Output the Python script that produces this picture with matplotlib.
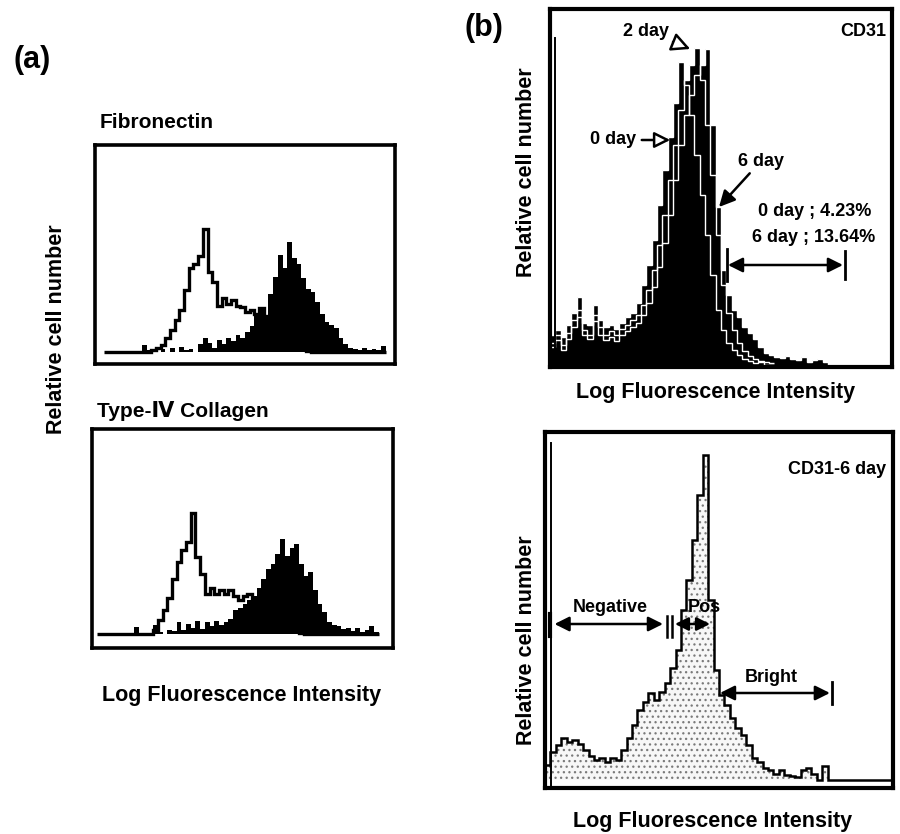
import numpy as np
import matplotlib
matplotlib.use('Agg')
import matplotlib.pyplot as plt

plt.rcParams['font.family'] = ['Liberation Sans', 'DejaVu Sans']
plt.rcParams['font.weight'] = 'bold'
plt.rcParams['hatch.linewidth'] = 0.9

# ---------------- data (relative cell counts per 4-channel bin) ----------------
BIN = 4  # channels per bin, 256-channel log scale

# (a) Fibronectin
fn_ctrl_start = 2
fn_ctrl = [0, 0, 0, 0, 0, 0, 0, 0, 0,
           0, 2, 4, 7, 14, 22, 32, 42, 62, 84, 88, 96, 123, 80, 70, 46, 54, 48, 52,
           46, 45, 40, 42, 38, 44, 36, 30, 25, 20, 15, 11, 8, 5, 3, 1,
           0, 0, 0, 0, 0, 0, 0, 0, 0, 0, 0, 0, 0, 0, 0, 0]
fn_stain_start = 10
fn_stain = [7, 2, 0, 0, 3, 0, 4, 0, 5, 2, 3, 0, 8, 14, 9, 4, 12, 8, 14, 11, 17, 14,
            20, 26, 38, 42, 36, 58, 75, 97, 84, 110, 94, 88, 74, 63, 60, 50, 38, 30,
            27, 24, 14, 8, 4, 3, 2, 4, 2, 3, 2, 6]

# (a) Type-IV collagen
col_ctrl_start = 1
col_ctrl = [0, 0, 0, 0, 0, 0, 0, 0, 0, 0, 0,
            0, 4, 14, 24, 36, 55, 72, 84, 92, 121, 77, 60, 40, 46, 40, 44, 40, 44,
            38, 34, 38, 40, 32, 30, 26, 22, 18, 14, 11, 8, 5, 3, 1,
            0, 0, 0, 0, 0, 0, 0, 0, 0, 0, 0, 0, 0, 0, 0, 0]
col_stain_start = 9
col_stain = [7, 0, 0, 0, 9, 2, 0, 4, 3, 12, 4, 10, 6, 13, 5, 12, 8, 13, 9, 12, 15,
             24, 26, 30, 34, 38, 46, 55, 65, 70, 80, 95, 78, 86, 90, 70, 58, 62, 44,
             30, 22, 12, 9, 8, 5, 6, 3, 6, 2, 4, 8, 2]

# (b) CD31 time course
cd31_day0 = [30, 35, 28, 40, 52, 68, 42, 40, 60, 45, 38, 40, 36, 42, 48, 52, 62, 80,
             100, 125, 160, 195, 228, 262, 303, 280, 250, 210, 170, 130, 90, 55, 35,
             22, 15, 10, 6, 4, 2, 3, 0, 0]
cd31_day2 = [22, 30, 20, 32, 45, 55, 35, 30, 50, 38, 30, 34, 30, 36, 40, 45, 50, 60,
             75, 95, 120, 150, 185, 220, 255, 285, 300, 317, 285, 240, 190, 130, 80,
             52, 35, 22, 14, 9, 6, 4, 3, 2]
cd31_day6 = [18, 25, 15, 26, 38, 48, 30, 26, 44, 30, 25, 28, 24, 30, 34, 38, 42, 50,
             62, 78, 98, 122, 150, 185, 220, 250, 270, 290, 300, 316, 240, 158, 95,
             70, 55, 48, 38, 32, 26, 18, 12, 10, 8, 7, 9, 6, 5, 8, 3, 5, 6, 3, 0]

# (b) CD31 - 6 day
cd31_6d = [15, 28, 35, 42, 38, 40, 36, 30, 24, 20, 22, 18, 22, 20, 30, 42, 55, 70,
           78, 87, 80, 88, 97, 112, 130, 170, 200, 240, 285, 325, 180, 110, 85, 75,
           62, 52, 45, 35, 22, 18, 12, 10, 6, 10, 5, 4, 3, 10, 12, 6, 0, 14, 0,
           0, 0, 0, 0, 0, 0, 0, 0, 0, 0, 0]

# ---------------- figure ----------------
W, H = 900, 834
fig = plt.figure(figsize=(W / 100, H / 100), dpi=100)


def box(x0, y0, x1, y1):
    return [x0 / W, 1 - y1 / H, (x1 - x0) / W, (y1 - y0) / H]


def ftext(x, y, s, **kw):
    kw.setdefault('ha', 'center')
    kw.setdefault('va', 'center')
    kw.setdefault('fontweight', 'bold')
    fig.text(x / W, 1 - y / H, s, **kw)


def edges(start, n):
    return BIN * np.arange(start, start + n + 1)


def frame(ax, ylim, lw=2.6):
    ax.set_xlim(0, 256)
    ax.set_ylim(*ylim)
    ax.set_xticks([])
    ax.set_yticks([])
    for s in ax.spines.values():
        s.set_linewidth(lw)
        s.set_color('black')


# (a) top: Fibronectin
ax1 = fig.add_axes(box(95, 145, 395, 364))
frame(ax1, (-12, 207))
ax1.stairs(fn_stain, edges(fn_stain_start, len(fn_stain)), fill=True, color='black')
ax1.stairs(fn_ctrl, edges(fn_ctrl_start, len(fn_ctrl)), color='black', lw=2.4)

# (a) bottom: Type-IV collagen
ax2 = fig.add_axes(box(92, 429, 393, 648))
frame(ax2, (-14, 205))
ax2.stairs(col_stain, edges(col_stain_start, len(col_stain)), fill=True, color='black')
ax2.stairs(col_ctrl, edges(col_ctrl_start, len(col_ctrl)), color='black', lw=2.4)

# (b) top: CD31 time course
ax3 = fig.add_axes(box(550, 9, 892, 367))
frame(ax3, (-2, 356), lw=3)
for series in (cd31_day6, cd31_day2, cd31_day0):
    ax3.stairs(series, edges(0, len(series)), fill=True, color='black')
for series in (cd31_day6, cd31_day2, cd31_day0):
    ax3.stairs(series, edges(0, len(series)), color='white', lw=1.0, baseline=None)
ax3.axvline(4.0, ymin=0, ymax=0.92, color='black', lw=1.4)

ax3.text(251.5, 334, 'CD31', ha='right', va='center', fontsize=13, fontweight='bold')
ax3.annotate('2 day', xy=(105, 316), xytext=(54.6, 334), ha='left', va='center',
             fontsize=13, fontweight='bold',
             arrowprops=dict(arrowstyle='-|>', facecolor='white', edgecolor='black',
                             lw=1.8, mutation_scale=28, shrinkA=1, shrinkB=0))
ax3.annotate('0 day', xy=(90, 225), xytext=(30, 225), ha='left', va='center',
             fontsize=13, fontweight='bold',
             arrowprops=dict(arrowstyle='-|>', facecolor='white', edgecolor='black',
                             lw=1.8, mutation_scale=24, shrinkA=2, shrinkB=0))
ax3.annotate('6 day', xy=(126.5, 158), xytext=(140.7, 204), ha='left', va='center',
             fontsize=13, fontweight='bold',
             arrowprops=dict(arrowstyle='-|>', facecolor='black', edgecolor='black',
                             lw=1.8, mutation_scale=24, shrinkA=1, shrinkB=0))
ax3.text(155.7, 153, '0 day ; 4.23%', ha='left', va='center', fontsize=13, fontweight='bold')
ax3.text(151.2, 127, '6 day ; 13.64%', ha='left', va='center', fontsize=13, fontweight='bold')
ax3.annotate('', xy=(219.3, 100), xytext=(133.2, 100),
             arrowprops=dict(arrowstyle='<|-|>', color='black', lw=1.8,
                             mutation_scale=22, shrinkA=0, shrinkB=0))
ax3.plot([132.5, 132.5], [84, 116], color='black', lw=2)
ax3.plot([220.8, 220.8], [86, 114], color='black', lw=2)

# (b) bottom: CD31 - 6 day
ax4 = fig.add_axes(box(545, 432, 893, 788))
frame(ax4, (-8, 348), lw=3)
ax4.stairs(cd31_6d, edges(0, len(cd31_6d)), fill=True, facecolor='#f7f7f7',
           edgecolor='#7a7a7a', hatch='...', linewidth=0)
ax4.stairs(cd31_6d, edges(0, len(cd31_6d)), color='black', lw=1.8)
ax4.axvline(4.5, ymin=0, ymax=0.97, color='black', lw=1.4)

ax4.text(250.8, 310, 'CD31-6 day', ha='right', va='center', fontsize=13, fontweight='bold')
ax4.text(47.8, 172, 'Negative', ha='center', va='center', fontsize=13, fontweight='bold')
ax4.annotate('', xy=(86.8, 156), xytext=(7.0, 156),
             arrowprops=dict(arrowstyle='<|-|>', color='black', lw=1.8,
                             mutation_scale=22, shrinkA=0, shrinkB=0))
ax4.plot([4.0, 4.0], [144, 166], color='black', lw=3)
ax4.plot([89.7, 89.7], [143, 164], color='black', lw=1.8)
ax4.plot([93.4, 93.4], [143, 164], color='black', lw=1.8)
ax4.text(117, 172, 'Pos', ha='center', va='center', fontsize=13, fontweight='bold')
ax4.annotate('', xy=(121.4, 156), xytext=(95.6, 156),
             arrowprops=dict(arrowstyle='<|-|>', color='black', lw=1.8,
                             mutation_scale=20, shrinkA=0, shrinkB=0))
ax4.text(166.2, 102, 'Bright', ha='center', va='center', fontsize=13, fontweight='bold')
ax4.annotate('', xy=(209.6, 87), xytext=(128.7, 87),
             arrowprops=dict(arrowstyle='<|-|>', color='black', lw=1.8,
                             mutation_scale=22, shrinkA=0, shrinkB=0))
ax4.plot([211.1, 211.1], [76, 98], color='black', lw=2)

# ---------------- labels ----------------
ftext(32, 60, '(a)', fontsize=22)
ftext(484, 28, '(b)', fontsize=22)
ftext(100, 123, 'Fibronectin', ha='left', fontsize=15)
ftext(97, 411, 'Type-\u2163 Collagen', ha='left', fontsize=15)
ftext(57, 329, 'Relative cell number', rotation=90, fontsize=15.5)
ftext(242, 695, 'Log Fluorescence Intensity', fontsize=15.5)
ftext(527, 172, 'Relative cell number', rotation=90, fontsize=15.5)
ftext(716, 393, 'Log Fluorescence Intensity', fontsize=15.5)
ftext(527, 640, 'Relative cell number', rotation=90, fontsize=15.5)
ftext(713, 821, 'Log Fluorescence Intensity', fontsize=15.5)

fig.savefig('out.png', dpi=100)
